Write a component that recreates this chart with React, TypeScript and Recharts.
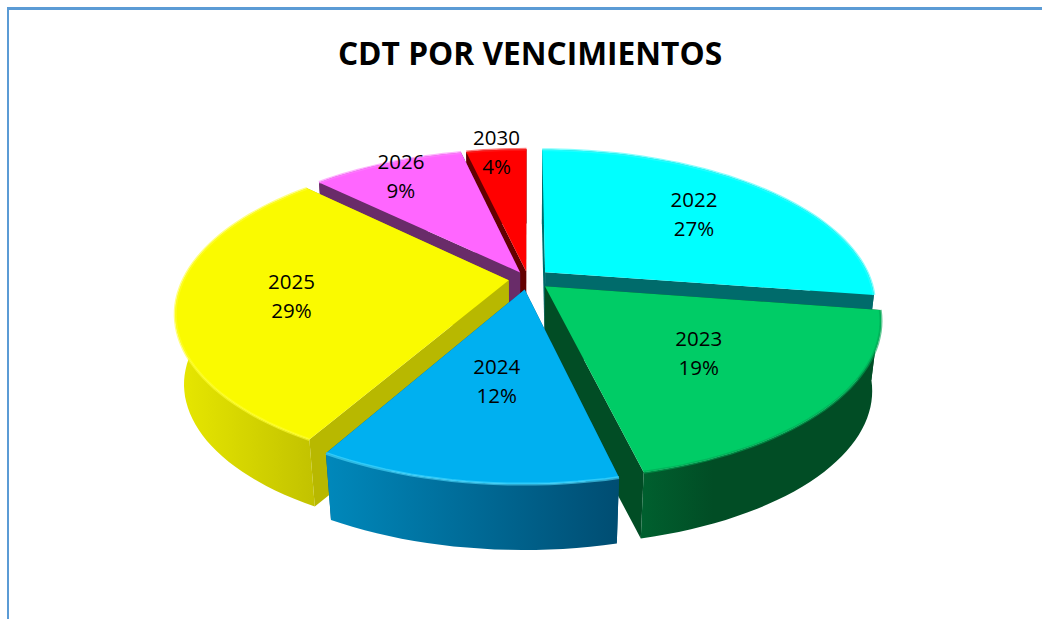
import React from 'react';
import { PieChart, Pie } from 'recharts';

const years = ['2022', '2023', '2024', '2025', '2026', '2030'];
const shares = [27.4, 18.9, 11.9, 29.1, 9.1, 3.6];
const chartTitle = 'CDT POR VENCIMIENTOS';

const rows = years.map((year, i) => ({ year, value: shares[i] }));

// paint order of the slices: far ones first so nearer ones overlap their walls
const paintOrder = [0, 5, 4, 3, 1, 2];

const topColors = ['#00FFFF', '#00CC66', '#00B0F0', '#FAFA00', '#FF66FF', '#FF0000'];
const wallColors = ['#006B6B', '#014D25', '#00527A', '#B8B800', '#692C69', '#640000'];
const sideFrom = ['#006B6B', '#00602F', '#0088BB', '#E8E800', '#692C69', '#640000'];
const sideTo = ['#006B6B', '#014D25', '#004D72', '#C2C200', '#692C69', '#640000'];
const sideStopAt = [1, 0.3, 1, 1, 1, 1];
const rimColors = ['#33FFFF', '#00A653', '#4DDCFF', '#FFFF30', '#FF80FF', '#FF2020'];
const explosion = [0.07, 0.07, 0.07, 0.06, 0.05, 0.05];
const labelReach = [0.74, 0.65, 0.6, 0.72, 0.93, 1.04];

const TILT = 150;
const PERSP = 0.204;
const DEPTH = 71;
const SHRINK = 0.975;

const rad = (d: number) => (d * Math.PI) / 180;

function project(cx: number, cy: number, R: number, u: number, v: number, lower = false) {
  const w = 1 - PERSP * v;
  const x = (R * u) / w;
  const y = (TILT * v) / w;
  return lower
    ? { x: cx + x * SHRINK, y: cy + y * SHRINK + DEPTH }
    : { x: cx + x, y: cy + y };
}

const toPath = (pts: { x: number; y: number }[], close = true) =>
  'M' + pts.map((p) => `${p.x.toFixed(1)} ${p.y.toFixed(1)}`).join('L') + (close ? 'Z' : '');

function SliceShape(props: any) {
  const { cx, cy, outerRadius, startAngle, endAngle, sliceIndex } = props;
  // library angles: counter-clockwise degrees from 3 o'clock
  const a0 = 90 - startAngle;
  const a1 = 90 - endAngle;
  const mid = (a0 + a1) / 2;
  const ou = explosion[sliceIndex] * Math.sin(rad(mid));
  const ov = -explosion[sliceIndex] * Math.cos(rad(mid));
  const steps = Math.max(4, Math.ceil((a1 - a0) / 2));
  const arcAngles = Array.from({ length: steps + 1 }, (_, k) => a0 + ((a1 - a0) * k) / steps);
  const pt = (a: number, lower: boolean) =>
    project(cx, cy, outerRadius, ou + Math.sin(rad(a)), ov - Math.cos(rad(a)), lower);
  const apex = project(cx, cy, outerRadius, ou, ov, false);
  const apexLow = project(cx, cy, outerRadius, ou, ov, true);
  const topArc = arcAngles.map((a) => pt(a, false));
  const lowArc = arcAngles.map((a) => pt(a, true));
  const id = `side-${sliceIndex}`;
  return (
    <g>
      <defs>
        <linearGradient id={id} x1="0" y1="0" x2="1" y2="0">
          <stop offset="0" stopColor={sideFrom[sliceIndex]} />
          <stop offset={sideStopAt[sliceIndex]} stopColor={sideTo[sliceIndex]} />
        </linearGradient>
      </defs>
      <path d={toPath([apex, topArc[0], lowArc[0], apexLow])} fill={wallColors[sliceIndex]} />
      <path d={toPath([apex, topArc[steps], lowArc[steps], apexLow])} fill={wallColors[sliceIndex]} />
      <path d={toPath([...topArc, ...[...lowArc].reverse()])} fill={`url(#${id})`} />
      <path d={toPath([apex, ...topArc])} fill={topColors[sliceIndex]} />
      <path
        d={toPath(topArc, false)}
        fill="none"
        stroke={rimColors[sliceIndex]}
        strokeWidth={3}
        strokeOpacity={0.6}
      />
    </g>
  );
}

function SliceLabel(props: any) {
  const { cx, cy, outerRadius, midAngle, index, name, value } = props;
  const a = 90 - midAngle;
  const r = labelReach[index];
  const p = project(cx, cy, outerRadius, r * Math.sin(rad(a)), -r * Math.cos(rad(a)));
  return (
    <text
      x={p.x}
      y={p.y}
      textAnchor="middle"
      fontFamily="'Open Sans', sans-serif"
      fontSize={20.5}
      fill="#000"
    >
      <tspan x={p.x} dy={-6}>{name}</tspan>
      <tspan x={p.x} dy={29}>{`${Math.round(value)}%`}</tspan>
    </text>
  );
}

const pieBase = {
  data: rows,
  dataKey: 'value',
  nameKey: 'year',
  cx: 528,
  cy: 279,
  innerRadius: 0,
  outerRadius: 325,
  startAngle: 90,
  endAngle: -270,
  isAnimationActive: false,
  legendType: 'none' as const,
  stroke: 'none',
};

export default function App() {
  return (
    <div style={{ position: 'fixed', left: 0, top: 0, width: 1042, height: 619, overflow: 'hidden', background: '#fff' }}>
      <div style={{ position: 'absolute', left: 7, top: 7, width: 1035, height: 3, background: '#5B9BD5' }} />
      <div style={{ position: 'absolute', left: 7, top: 7, width: 2, height: 612, background: '#5B9BD5' }} />
      <div style={{ position: 'absolute', left: 0, top: 0 }}>
        <PieChart width={1042} height={619} margin={{ top: 0, right: 0, bottom: 0, left: 0 }}>
          <text
            x={530}
            y={65}
            textAnchor="middle"
            fontFamily="'Open Sans', sans-serif"
            fontWeight={700}
            fontSize={31.7}
            fill="#000"
          >
            {chartTitle}
          </text>
          {paintOrder.map((sliceIndex) => (
            <Pie
              key={years[sliceIndex]}
              {...pieBase}
              shape={(p: any, i: number) =>
                i === sliceIndex ? <SliceShape {...p} sliceIndex={sliceIndex} /> : <g />
              }
            />
          ))}
          <Pie
            {...pieBase}
            shape={() => <g />}
            labelLine={false}
            label={(p: any) => <SliceLabel {...p} />}
          />
        </PieChart>
      </div>
    </div>
  );
}
